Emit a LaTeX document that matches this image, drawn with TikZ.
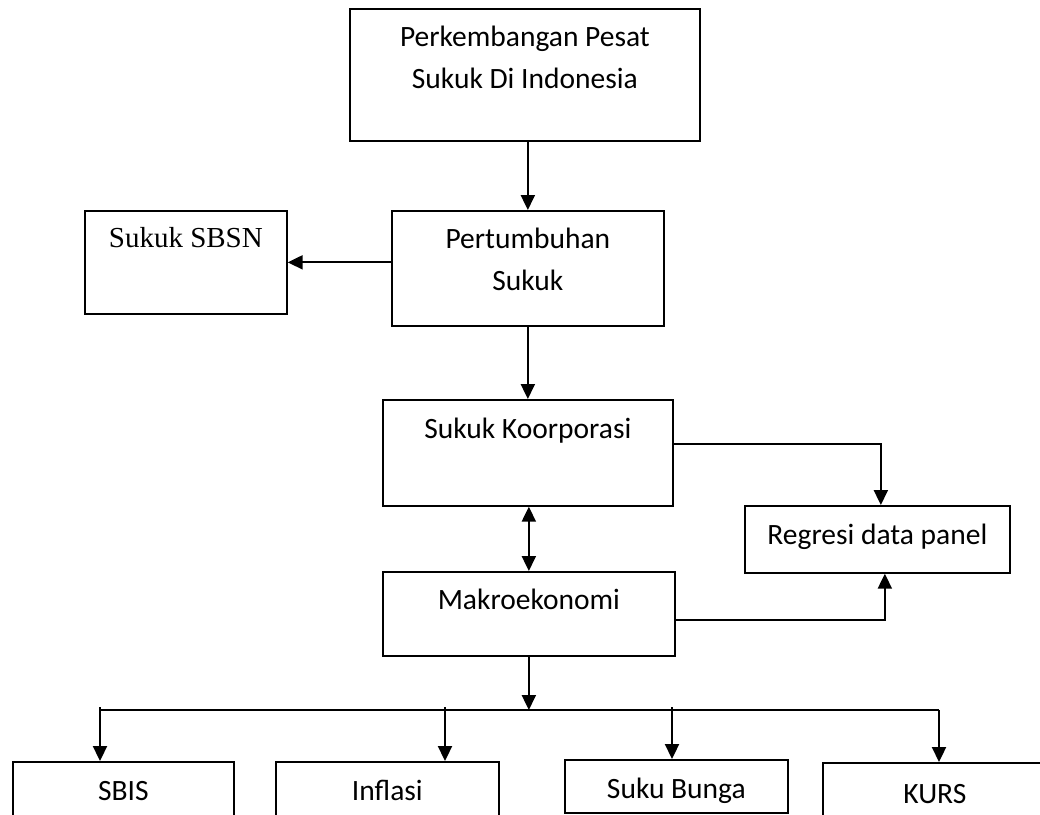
\documentclass[tikz,border=0pt]{standalone}
\usepackage{fontspec}
\setmainfont{Carlito}
\newfontfamily\serifbox{Liberation Serif}
\usetikzlibrary{arrows.meta}
\tikzset{
  box/.style={draw, line width=1.7pt, inner sep=0pt, anchor=north west,
              font=\fontsize{29.5}{42}\selectfont},
  ln/.style={line width=2.2pt},
  arr/.style={line width=2.2pt, -{Triangle[length=15pt,width=14pt]}},
  darr/.style={line width=2.2pt, {Triangle[length=15pt,width=14pt]}-{Triangle[length=15pt,width=14pt]}}
}
\begin{document}
\begin{tikzpicture}[x=1pt,y=-1pt]
\useasboundingbox (0,0) rectangle (1040,814);
\clip (0,0) rectangle (1040,814);
\node[box, minimum width=350pt, text height=38pt, text depth=94pt] (top) at (349,8)
  {\begin{tabular}[t]{@{}c@{}}Perkembangan Pesat\\Sukuk Di Indonesia\end{tabular}};
\node[box, minimum width=272pt, text height=38pt, text depth=77pt] (pert) at (391,210)
  {\begin{tabular}[t]{@{}c@{}}Pertumbuhan\\Sukuk\end{tabular}};
\node[box, minimum width=202pt, text height=37pt, text depth=66pt, font=\serifbox\fontsize{29}{34}\selectfont] (sbsn) at (84,210) {Sukuk SBSN};
\node[box, minimum width=290pt, text height=39pt, text depth=67pt] (koor) at (382,399) {Sukuk Koorporasi};
\node[box, minimum width=292pt, text height=38pt, text depth=46pt] (makro) at (382,571) {Makroekonomi};
\node[box, minimum width=265pt, text height=39pt, text depth=28pt] (reg) at (744,505) {Regresi data panel};
\node[box, minimum width=221pt, text height=39pt, text depth=30pt] (sbis) at (12,761) {SBIS};
\node[box, minimum width=223pt, text height=39pt, text depth=30pt] (infl) at (275,761) {Inflasi};
\node[box, minimum width=223pt, text height=39pt, text depth=14pt] (bunga) at (564,759) {Suku Bunga};
\node[box, minimum width=224pt, text height=41pt, text depth=27pt] (kurs) at (822,762) {KURS};

\draw[arr] (pert.north |- top.south) -- (pert.north);
\draw[arr] (pert.west |- sbsn.east) -- (sbsn.east);
\draw[arr] (pert.south) -- (koor.north);
\draw[darr] (koor.south -| makro.north) -- (makro.north);
\draw[arr] ([yshift=9pt]koor.east) -| ([xshift=3.5pt]reg.north);
\draw[arr] ([yshift=-6pt]makro.east) -| ([xshift=7.5pt]reg.south);

\coordinate (b1) at (100,710);
\coordinate (b2) at (445,710);
\coordinate (b3) at (672,710);
\coordinate (b4) at (939,710);
\draw[arr] (makro.south) -- (makro.south |- b1);
\draw[ln] (b1) -- (b4);
\draw[arr] ([yshift=3pt]b1) -- (b1 |- sbis.north);
\draw[arr] ([yshift=3pt]b2) -- (b2 |- infl.north);
\draw[arr] ([yshift=3pt]b3) -- (b3 |- bunga.north);
\draw[arr] (b4) -- (b4 |- kurs.north);
\end{tikzpicture}
\end{document}
